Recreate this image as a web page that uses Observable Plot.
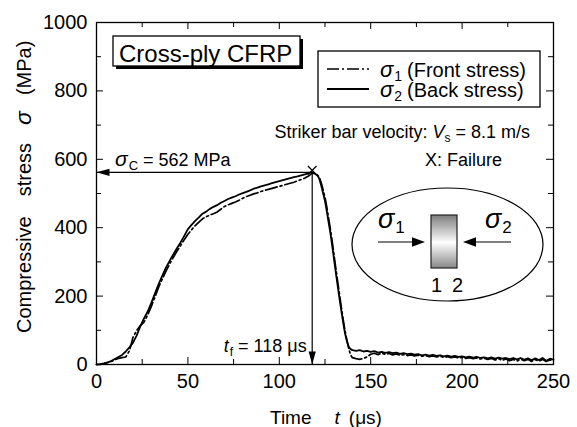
<!DOCTYPE html>
<html><head><meta charset="utf-8">
<script src="https://cdn.jsdelivr.net/npm/d3@7"></script>
<script src="https://cdn.jsdelivr.net/npm/@observablehq/plot@0.6"></script>
<style>
html,body{margin:0;padding:0;background:#fff;}
#chart svg{display:block;}
</style></head><body><div id="chart"></div>
<script>
// ---- data ----
const timeUs = [0,2,4,6,8,10,12,14,16,18,20,22,24,26,28,30,32,34,36,38,40,42,44,46,48,50,52,54,56,58,60,62,64,66,68,70,72,74,76,78,80,82,84,86,88,90,92,94,96,98,100,102,104,106,108,110,112,114,116,
117,118,119,120,121,122,123,124,125,126,127,128,129,130,131,132,133,134,135,136,137,138,139,140,
142,144,146,148,150,152,154,156,158,160,162,164,166,168,170,172,174,176,178,180,182,184,186,188,190,192,194,196,198,200,202,204,206,208,210,212,214,216,218,220,222,224,226,228,230,232,234,236,238,240,242,244,246,248,250];
// sigma_2 (back stress), solid
const backStress = [0,1,3,6,10,16,22,28,38,50,64,85,112,135,155,180,208,235,260,283,303,322,340,357,376,396,408,420,430,441,447,455,461,466,473,478,484,488,492,497,501,505,509,514,517,521,524,527,530,533,536,539,542,545,548,550,553,556,559,
561,562,560,556,552,541,522,500,478,448,415,383,345,305,266,228,190,155,120,90,68,52,45,42,
40,42,38,40,37,39,35,37,34,36,33,35,31,33,30,32,29,30,27,29,26,28,25,27,24,26,23,25,22,24,21,23,20,22,19,21,18,21,17,20,17,19,16,19,15,19,14,18,12,18,13,19,11,17,14];
// sigma_1 (front stress), dash-dot
const frontStress = [0,0,2,5,9,14,18,20,22,40,80,100,114,124,145,170,198,226,250,273,294,313,331,348,365,381,394,406,416,426,432,437,441,446,454,462,467,471,475,480,486,491,495,499,502,506,509,512,515,518,521,524,527,530,533,537,541,545,551,
555,559,559,557,553,546,530,510,488,460,427,394,357,318,278,240,202,165,130,97,70,46,28,20,
17,15,18,22,30,33,29,33,30,32,28,31,27,29,26,28,25,27,24,26,23,25,22,24,21,23,20,22,19,21,18,20,17,19,16,18,15,18,13,17,12,16,11,15,10,16,11,15,9,14,10,15,9,13,11];
const xTickValues = [0,50,100,150,200,250];
const xMinorTicks = [25,75,125,175,225];
const yTickValues = [0,200,400,600,800,1000];
const yMinorTicks = [100,300,500,700,900];
const failureTime = 118;      // t_f (µs)
const failureStress = 562;    // sigma_C (MPa)

// ---- layout ----
const W = 577, H = 427, mL = 96, mR = 24, mT = 22, mB = 63;
const fw = W - mL - mR, fh = H - mT - mB;
const FONT = '"Liberation Sans", Arial, Helvetica, sans-serif';

const front = timeUs.map((t, i) => ({t, s: frontStress[i]}));
const back = timeUs.map((t, i) => ({t, s: backStress[i]}));
const hArrow = [{x1: 0, x2: failureTime, y: failureStress}];
const vArrow = [{x: failureTime, y1: 0, y2: failureStress}];

// narrow filled arrow head, tip at the origin, pointing down
const arrowHead = {draw(ctx) { ctx.moveTo(0, 0); ctx.lineTo(-3.6, -13); ctx.lineTo(3.6, -13); ctx.closePath(); }};

const plot = Plot.plot({
  width: W, height: H,
  marginLeft: mL, marginRight: mR, marginTop: mT, marginBottom: mB,
  x: {domain: [0, 250]},
  y: {domain: [0, 1000]},
  style: {fontFamily: FONT, fontSize: "20px", color: "#000", background: "#fff", overflow: "visible"},
  marks: [
    // inward ticks on all four sides
    Plot.ruleX(xTickValues, {insetTop: fh - 7, stroke: "#000"}),
    Plot.ruleX(xTickValues, {insetBottom: fh - 7, stroke: "#000"}),
    Plot.ruleX(xMinorTicks, {insetTop: fh - 5, stroke: "#000"}),
    Plot.ruleX(xMinorTicks, {insetBottom: fh - 5, stroke: "#000"}),
    Plot.ruleY(yTickValues, {insetRight: fw - 7, stroke: "#000"}),
    Plot.ruleY(yTickValues, {insetLeft: fw - 7, stroke: "#000"}),
    Plot.ruleY(yMinorTicks, {insetRight: fw - 5, stroke: "#000"}),
    Plot.ruleY(yMinorTicks, {insetLeft: fw - 5, stroke: "#000"}),
    Plot.axisX({ticks: xTickValues, tickSize: 0, tickPadding: 9, fontSize: 20, label: null, tickFormat: d => String(d)}),
    Plot.axisY({ticks: yTickValues, tickSize: 0, tickPadding: 9, fontSize: 20, label: null, tickFormat: d => String(d)}),
    // curves
    Plot.line(back, {x: "t", y: "s", stroke: "#000", strokeWidth: 1.8}),
    Plot.line(front, {x: "t", y: "s", stroke: "#000", strokeWidth: 1.7, strokeDasharray: "12,3,2,3"}),
    // failure annotation arrows
    Plot.ruleY(hArrow, {y: "y", x1: "x1", x2: "x2", stroke: "#000", strokeWidth: 1.2}),
    Plot.ruleX(vArrow, {x: "x", y1: "y1", y2: "y2", stroke: "#000", strokeWidth: 1.2}),
    Plot.dot(hArrow, {x: "x1", y: "y", symbol: arrowHead, rotate: 90, fill: "#000", stroke: "none"}),
    Plot.dot(vArrow, {x: "x", y: "y1", symbol: arrowHead, rotate: 0, fill: "#000", stroke: "none"}),
    Plot.dot(vArrow, {x: "x", y: "y2", symbol: "times", r: 4, stroke: "#000", strokeWidth: 1.3, dy: -2}),
    Plot.frame({stroke: "#000", strokeWidth: 1.3})
  ]
});
document.getElementById("chart").appendChild(plot);

// ---- annotations ----
const sx = v => plot.scale("x").apply(v);
const sy = v => plot.scale("y").apply(v);
const svg = d3.select(plot);
const g = svg.append("g").attr("font-family", FONT).attr("fill", "#000");

function rich(parent, x, y, parts, {anchor = "start", size = 18, transform = null} = {}) {
  const t = parent.append("text").attr("x", x).attr("y", y)
    .attr("text-anchor", anchor).attr("font-size", size).attr("fill", "#000")
    .style("white-space", "pre");
  if (transform) t.attr("transform", transform);
  let prev = 0;
  for (const p of parts) {
    const off = p.off || 0;
    const ts = t.append("tspan").text(p.text).attr("dy", off - prev);
    if (p.dx) ts.attr("dx", p.dx);
    if (p.size) ts.attr("font-size", p.size);
    if (p.italic) ts.attr("font-style", "italic");
    prev = off;
  }
  return t;
}

// title box with shadow
g.append("rect").attr("x", 116).attr("y", 39).attr("width", 187).attr("height", 30).attr("fill", "#000");
g.append("rect").attr("x", 113).attr("y", 36).attr("width", 187).attr("height", 30)
  .attr("fill", "#fff").attr("stroke", "#000").attr("stroke-width", 1.3);
rich(g, 119, 62, [{text: "Cross-ply CFRP"}], {size: 24});

// legend
g.append("rect").attr("x", 318).attr("y", 51).attr("width", 222).attr("height", 56)
  .attr("fill", "#fff").attr("stroke", "#000").attr("stroke-width", 1.3);
g.append("line").attr("x1", 327).attr("x2", 369).attr("y1", 69).attr("y2", 69)
  .attr("stroke", "#000").attr("stroke-width", 1.7).attr("stroke-dasharray", "12,3,2,3");
g.append("line").attr("x1", 327).attr("x2", 369).attr("y1", 89).attr("y2", 89)
  .attr("stroke", "#000").attr("stroke-width", 1.8);
rich(g, 380, 77, [{text: "σ", italic: true, size: 22}, {text: "1", size: 14, off: 4, dx: 1}, {text: "(Front stress)", dx: 5}], {size: 20});
rich(g, 380, 97, [{text: "σ", italic: true, size: 22}, {text: "2", size: 14, off: 4, dx: 1}, {text: "(Back stress)", dx: 5}], {size: 20});

// velocity and failure notes
rich(g, 530, 138, [{text: "Striker bar velocity: "}, {text: "V", italic: true}, {text: "s", size: 12, off: 4}, {text: " = 8.1 m/s"}], {anchor: "end", size: 18});
rich(g, 425, 166, [{text: "X: Failure"}], {size: 18});

// sigma_C and t_f labels
rich(g, 115, sy(failureStress) - 6, [{text: "σ", italic: true, size: 21}, {text: "C", size: 13, off: 4, dx: 1}, {text: " = 562 MPa"}], {size: 18});
rich(g, sx(failureTime) - 5, sy(0) - 12, [{text: "t", italic: true}, {text: "f", size: 12, off: 4, dx: 1}, {text: " = 118 μs"}], {anchor: "end", size: 18});

// inset sketch
const defs = svg.append("defs");
const grad = defs.append("linearGradient").attr("id", "barGrad").attr("x1", 0).attr("y1", 0).attr("x2", 0).attr("y2", 1);
grad.append("stop").attr("offset", "0%").attr("stop-color", "#7c7c7c");
grad.append("stop").attr("offset", "52%").attr("stop-color", "#ffffff");
grad.append("stop").attr("offset", "100%").attr("stop-color", "#878787");
g.append("ellipse").attr("cx", 447.5).attr("cy", 244.5).attr("rx", 95.5).attr("ry", 56.5)
  .attr("fill", "#fff").attr("stroke", "#000").attr("stroke-width", 1.2);
g.append("rect").attr("x", 431).attr("y", 215).attr("width", 26).attr("height", 53)
  .attr("fill", "url(#barGrad)").attr("stroke", "#222").attr("stroke-width", 1.2);
g.append("line").attr("x1", 378).attr("x2", 414).attr("y1", 242).attr("y2", 242).attr("stroke", "#000").attr("stroke-width", 1.2);
g.append("path").attr("d", "M425,242L412,237.3L412,246.7Z").attr("fill", "#000");
g.append("line").attr("x1", 511).attr("x2", 474).attr("y1", 242).attr("y2", 242).attr("stroke", "#000").attr("stroke-width", 1.2);
g.append("path").attr("d", "M463,242L476,237.3L476,246.7Z").attr("fill", "#000");
rich(g, 378, 228, [{text: "σ", italic: true}, {text: "1", size: 17, off: 5, dx: 1}], {size: 27});
rich(g, 485, 228, [{text: "σ", italic: true}, {text: "2", size: 17, off: 5, dx: 1}], {size: 27});
rich(g, 431, 292, [{text: "1"}], {size: 20});
rich(g, 452, 292, [{text: "2"}], {size: 20});

// axis titles
rich(g, 270, 424, [{text: "Time"}, {text: "t", italic: true, dx: 23}, {text: "(μs)", dx: 9}], {size: 19});
rich(g, 0, 0, [{text: "Compressive"}, {text: "stress", dx: 20}, {text: "σ", italic: true, size: 23, dx: 18}, {text: "(MPa)", dx: 16}],
  {size: 20, transform: "translate(31,333) rotate(-90)"});
</script></body></html>
